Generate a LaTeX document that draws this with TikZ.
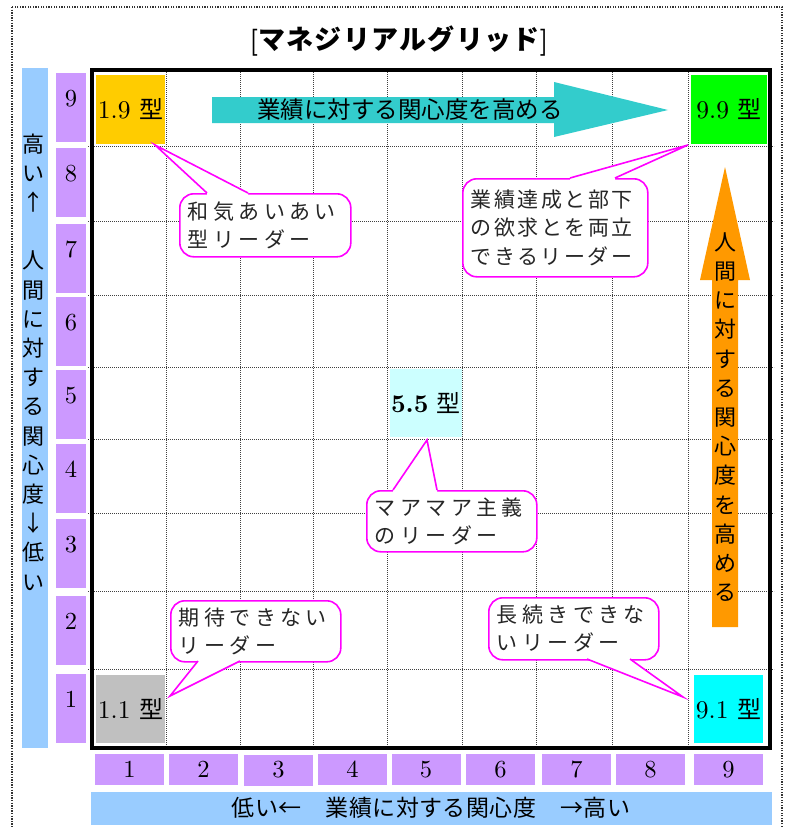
\documentclass[tikz,border=0pt]{standalone}
\usepackage{fontspec}
\newfontfamily\numf{lmroman10-regular.otf}[BoldFont=lmroman10-bold.otf]
\newfontfamily\jpf{Noto Sans CJK JP}
\newfontfamily\jpsp[LetterSpace=21]{Noto Sans CJK JP}
\newfontfamily\jpspn[LetterSpace=12]{Noto Sans CJK JP}
\newfontfamily\jpt[LetterSpace=5]{Noto Sans CJK JP}
\usetikzlibrary{calc}
\definecolor{cGold}{HTML}{FFCC00}
\definecolor{cGreen}{HTML}{00FF00}
\definecolor{cGray}{HTML}{C0C0C0}
\definecolor{cCyan}{HTML}{00FFFF}
\definecolor{cLCyan}{HTML}{CCFFFF}
\definecolor{cTeal}{HTML}{33CCCC}
\definecolor{cOrange}{HTML}{FF9900}
\definecolor{cBlue}{HTML}{99CCFF}
\definecolor{cPurple}{HTML}{CC99FF}
\definecolor{cMag}{HTML}{FF00FF}
\begin{document}
\begin{tikzpicture}[x=1pt,y=-1pt,
  framedot/.style={black!80, line width=1.3pt, dash pattern=on 1.3pt off 1.3pt},
  gridline/.style={black!75, line width=0.9pt, dash pattern=on 0.9pt off 1.1pt},
  cellbox/.style={inner sep=0pt, font=\numf\fontsize{25.5}{28}\selectfont},
  numl/.style={fill=cPurple, inner sep=0pt, minimum width=30pt, text height=33pt, text depth=36pt, anchor=north, font=\numf\fontsize{24.5}{26}\selectfont},
  numb/.style={fill=cPurple, inner sep=0pt, minimum width=69pt, minimum height=31pt, font=\numf\fontsize{24.5}{26}\selectfont},
  callout/.style={draw=cMag, line width=1.6pt, fill=white, rounded corners=14pt, inner xsep=8pt, inner ysep=0pt, align=left, anchor=north west, text=black!85},
  cfont/.style={font=\jpsp\fontsize{21}{28}\selectfont},
  pointer/.style={draw=cMag, line width=1.6pt, line join=miter},
  vtext/.style={align=center, inner sep=0pt, font=\jpf\fontsize{22}{29.2}\selectfont}
]
\useasboundingbox (0,0) rectangle (789,827);
\clip (0,0) rectangle (789,827);
\fill[white] (0,0) rectangle (789,827);
\draw[framedot] (12,7) rectangle (782,860);

% title
\node[inner sep=0pt, font=\fontsize{27}{30}\selectfont] (title) at (399,41)
  {{\numf\bfseries [}{\jpt\bfseries マネジリアルグリッド}{\numf\bfseries ]}};

% grid
\foreach \x in {166,240,313,387,462,536,612,688}
  \draw[gridline] (\x,70) -- (\x,748);
\foreach \y in {146,221,295,367,439,513,591,669}
  \draw[gridline] (88,\y) -- (774,\y);

% type boxes
\node[cellbox, fill=cGold, minimum width=69pt, minimum height=69pt] (b19) at (130.5,109.5) {1.9 {\jpf\fontsize{24}{28}\selectfont 型}};
\node[cellbox, fill=cGreen, minimum width=76pt, minimum height=69pt] (b99) at (729,109.5) {9.9 {\jpf\fontsize{24}{28}\selectfont 型}};
\node[cellbox, fill=cGray, minimum width=69pt, minimum height=68pt] (b11) at (130.5,709) {1.1 {\jpf\fontsize{24}{28}\selectfont 型}};
\node[cellbox, fill=cCyan, minimum width=69pt, minimum height=68pt] (b91) at (728.5,709) {9.1 {\jpf\fontsize{24}{28}\selectfont 型}};
\node[cellbox, fill=cLCyan, minimum width=72pt, minimum height=68pt] (b55) at (426,403) {\textbf{5.5} {\jpf\fontsize{24}{28}\selectfont 型}};

% top arrow
\fill[cTeal] (212,97) -- (554,97) -- (554,82) -- (668,110) -- (554,137) -- (554,123) -- (212,123) -- cycle;
\node[inner sep=0pt, font=\jpf\fontsize{23.5}{26}\selectfont] (toptxt) at (410,110) {業績に対する関心度を高める};

% right arrow
\fill[cOrange] (725,167) -- (750,280) -- (738,280) -- (738,627) -- (712,627) -- (712,280) -- (700,280) -- cycle;
\node[vtext] (righttxt) at (725,417) {人\\間\\に\\対\\す\\る\\関\\心\\度\\を\\高\\め\\る};

% left axis
\fill[cBlue] (22,68) rectangle (48,748);
\node[vtext] (lefttxt) at (34,362) {高\\い\\↑\\　\\人\\間\\に\\対\\す\\る\\関\\心\\度\\↓\\低\\い};
\node[numl] (l9) at (71,73) {9};
\node[numl] (l8) at (71,148) {8};
\node[numl] (l7) at (71,224) {7};
\node[numl] (l6) at (71,297) {6};
\node[numl] (l5) at (71,370) {5};
\node[numl] (l4) at (71,444) {4};
\node[numl] (l3) at (71,519) {3};
\node[numl] (l2) at (71,596) {2};
\node[numl] (l1) at (71,674) {1};

% bottom axis
\node[numb] (n1) at (129.5,769.5) {1};
\node[numb] (n2) at (203.5,769.5) {2};
\node[numb] (n3) at (278.5,770) {3};
\node[numb] (n4) at (352.5,769.5) {4};
\node[numb] (n5) at (426,769.5) {5};
\node[numb] (n6) at (500.5,769.5) {6};
\node[numb] (n7) at (576.5,769.5) {7};
\node[numb] (n8) at (650.5,769.5) {8};
\node[numb] (n9) at (728.5,769.5) {9};
\fill[cBlue] (91,792) rectangle (772,825);
\node[inner sep=0pt, font=\jpf\fontsize{23}{26}\selectfont\addfontfeature{LetterSpace=2}] (bottomtxt) at (431,808) {低い←　業績に対する関心度　→高い};

% callouts
\node[callout, cfont, minimum width=171pt, minimum height=63pt, text width=155pt] (c1) at (179,193) {和気あいあい\\型リーダー};
\coordinate (t1) at (155,145);
\fill[white] (207,193) -- (t1) -- (248,193) -- (248,196) -- (207,196) -- cycle;
\draw[pointer] (207,193) -- (t1) -- (248,193);

\node[callout, font=\jpspn\fontsize{21}{28.5}\selectfont, minimum width=185pt, minimum height=98pt, text width=169pt] (c2) at (462,178) {業績達成と部下\\の欲求とを両立\\できるリーダー};
\coordinate (t2) at (688,145);
\fill[white] (570,178) -- (t2) -- (615,178) -- (615,181) -- (570,181) -- cycle;
\draw[pointer] (570,178) -- (t2) -- (615,178);

\node[callout, cfont, minimum width=170pt, minimum height=61pt, text width=154pt] (c3) at (366,490) {マアマア主義\\のリーダー};
\coordinate (t3) at (427,440);
\fill[white] (393,490) -- (t3) -- (437,490) -- (437,493) -- (393,493) -- cycle;
\draw[pointer] (393,490) -- (t3) -- (437,490);

\node[callout, cfont, minimum width=170pt, minimum height=61pt, text width=154pt] (c4) at (170,600) {期待できない\\リーダー};
\coordinate (t4) at (170,696);
\fill[white] (198,661) -- (t4) -- (240,661) -- (240,658) -- (198,658) -- cycle;
\draw[pointer] (198,661) -- (t4) -- (240,661);

\node[callout, cfont, minimum width=170pt, minimum height=62pt, text width=154pt] (c5) at (488,597) {長続きできな\\いリーダー};
\coordinate (t5) at (683,697);
\fill[white] (587,659) -- (t5) -- (630,659) -- (630,656) -- (587,656) -- cycle;
\draw[pointer] (587,659) -- (t5) -- (630,659);

% thick border
\draw[line width=3.5pt] (92,70) rectangle (770,748);
\end{tikzpicture}
\end{document}
